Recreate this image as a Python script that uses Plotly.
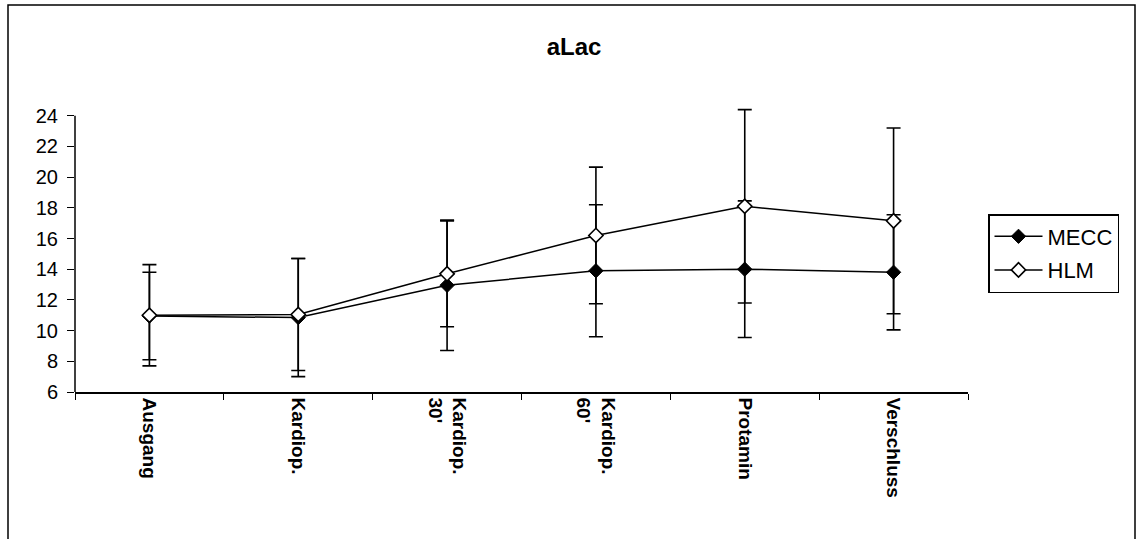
import plotly.graph_objects as go

categories = ["Ausgang", "Kardiop.", "Kardiop.<br>30'", "Kardiop.<br>60'", "Protamin", "Verschluss"]
mecc = [10.95, 10.85, 12.95, 13.9, 14.0, 13.8]
mecc_sd = [2.85, 3.85, 4.25, 4.3, 4.45, 3.75]
hlm = [11.0, 11.05, 13.7, 16.2, 18.1, 17.15]
hlm_sd = [3.3, 3.65, 3.45, 4.45, 6.3, 6.05]
y_ticks = [6, 8, 10, 12, 14, 16, 18, 20, 22, 24]
y_min, y_axis_top, y_view_top = 6, 24, 24.7

W, H = 1137, 539
ML, MR, MB = 75, 169, 147
UNIT = (392.3 - 115.7) / (y_axis_top - y_min)  # px per data unit
MT = round(H - MB - UNIT * (y_view_top - y_min))
PW, PH = W - ML - MR, H - MT - MB

FONT = "Liberation Sans, Arial, sans-serif"

fig = go.Figure()
fig.add_trace(go.Scatter(
    x=categories, y=mecc, name="MECC", mode="lines+markers", cliponaxis=False,
    line=dict(color="black", width=1.5),
    marker=dict(symbol="diamond", size=11, color="black", line=dict(color="black", width=1)),
    error_y=dict(type="data", array=mecc_sd, visible=True, color="black", thickness=1.6, width=7),
    legendgroup="a",
))
fig.add_trace(go.Scatter(
    x=categories, y=hlm, name="HLM", mode="lines+markers", cliponaxis=False,
    line=dict(color="black", width=1.5),
    marker=dict(symbol="diamond", size=11, color="white", line=dict(color="black", width=1.6)),
    error_y=dict(type="data", array=hlm_sd, visible=True, color="black", thickness=1.6, width=7),
    legendgroup="b",
))

def px_x(px):
    return (px - ML) / PW

def px_y(py):
    return (H - MB - py) / PH

# outer chart border
fig.add_shape(type="rect", xref="paper", yref="paper",
              x0=px_x(8), x1=px_x(1135), y0=px_y(560), y1=px_y(5),
              line=dict(color="black", width=1.5), fillcolor="rgba(0,0,0,0)", layer="below")
# y axis line (stops at the top tick)
fig.add_shape(type="line", xref="paper", yref="y", x0=0, x1=0, y0=y_min, y1=y_axis_top,
              line=dict(color="black", width=1.5), layer="above")

fig.update_layout(
    width=W, height=H,
    margin=dict(l=ML, r=MR, t=MT, b=MB, autoexpand=False),
    paper_bgcolor="white", plot_bgcolor="white",
    font=dict(family=FONT, color="black"),
    title=dict(text="<b>aLac</b>", x=574 / W, xref="container", xanchor="center",
               y=1 - 47 / H, yref="container", yanchor="middle",
               font=dict(size=24, family=FONT, color="black")),
    showlegend=True,
    legend=dict(x=px_x(988), y=px_y(214), xanchor="left", yanchor="top",
                bordercolor="black", borderwidth=1.5, bgcolor="white",
                font=dict(size=22, family=FONT, color="black"),
                traceorder="grouped", tracegroupgap=2, itemwidth=48),
    xaxis=dict(type="category", range=[-0.5, 5.5], tickson="boundaries",
               ticks="outside", ticklen=6, tickcolor="black", tickwidth=1.2,
               showline=True, linecolor="black", linewidth=1.5,
               showgrid=False, zeroline=False, tickangle=90,
               tickfont=dict(size=19, family=FONT, color="black", weight="bold")),
    yaxis=dict(range=[y_min, y_view_top], tickvals=y_ticks, ticks="outside", ticklen=7,
               tickcolor="black", tickwidth=1.2, showline=False,
               showgrid=False, zeroline=False, ticklabelstandoff=5,
               tickfont=dict(size=20, family=FONT, color="black")),
)

fig.write_html("out.html")
